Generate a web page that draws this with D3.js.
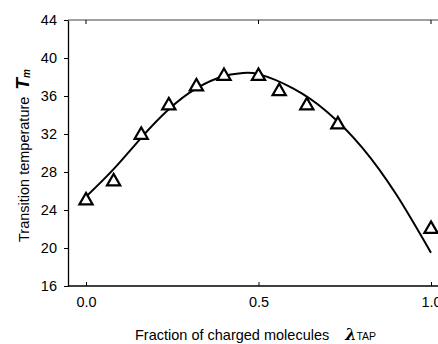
<!DOCTYPE html>
<html>
<head>
<meta charset="utf-8">
<script src="https://cdn.jsdelivr.net/npm/d3@7"></script>
<style>
  body { margin: 0; background: #fff; }
  text { font-family: "Liberation Sans", Arial, sans-serif; }
</style>
</head>
<body>
<div id="chart"></div>
<script>
// measured points (triangles)
const fraction = [0.0, 0.08, 0.16, 0.24, 0.32, 0.40, 0.50, 0.56, 0.64, 0.73, 1.0];
const tm = [25.1, 27.1, 32.0, 35.1, 37.1, 38.2, 38.2, 36.6, 35.1, 33.1, 22.1];

// fitted curve
const fitX = [0.0, 0.08, 0.16, 0.24, 0.32, 0.40, 0.45, 0.50, 0.60, 0.70, 0.80, 0.90, 1.0];
const fitY = [25.4, 28.3, 31.6, 34.6, 36.8, 38.1, 38.4, 38.3, 36.8, 34.3, 30.6, 25.6, 19.5];

const xTicks = [0.0, 0.5, 1.0];
const yTicks = [16, 20, 24, 28, 32, 36, 40, 44];

const width = 438, height = 344;
const margin = {top: 20, left: 68, bottom: 58};
const fontSize = 14.5;

const svg = d3.select("#chart").append("svg")
  .attr("width", width)
  .attr("height", height);

const x = d3.scaleLinear().domain([0, 1]).range([86, 431]);
const y = d3.scaleLinear().domain([16, 44]).range([height - margin.bottom, margin.top]);

// top frame line (grey) with inner ticks
svg.append("line")
  .attr("x1", margin.left).attr("x2", width)
  .attr("y1", margin.top).attr("y2", margin.top)
  .attr("stroke", "#808080").attr("stroke-width", 1.3);
svg.append("g").selectAll("line")
  .data(xTicks)
  .join("line")
  .attr("x1", d => x(d)).attr("x2", d => x(d))
  .attr("y1", margin.top).attr("y2", margin.top + 4)
  .attr("stroke", "#000");

// bottom axis
const xAxis = svg.append("g")
  .attr("transform", "translate(0," + y(16) + ")")
  .call(d3.axisBottom(x).tickValues(xTicks).tickFormat(d3.format(".1f")).tickSizeInner(-4).tickSizeOuter(0).tickPadding(11));
xAxis.select(".domain").remove();
xAxis.append("line")
  .attr("x1", margin.left).attr("x2", width)
  .attr("stroke", "#000").attr("stroke-width", 1.3);
xAxis.selectAll("text").attr("font-size", fontSize).attr("fill", "#000")
  .attr("font-family", "Liberation Sans, Arial, sans-serif");

// left axis
const yAxis = svg.append("g")
  .attr("transform", "translate(" + margin.left + ",0)")
  .call(d3.axisLeft(y).tickValues(yTicks).tickSize(4).tickSizeOuter(0).tickPadding(7));
yAxis.select(".domain").attr("stroke-width", 1.3);
yAxis.selectAll("text").attr("font-size", fontSize).attr("fill", "#000")
  .attr("font-family", "Liberation Sans, Arial, sans-serif");

// fitted curve
const fit = fitX.map((d, i) => [d, fitY[i]]);
svg.append("path")
  .datum(fit)
  .attr("fill", "none")
  .attr("stroke", "#000")
  .attr("stroke-width", 2)
  .attr("d", d3.line().x(d => x(d[0])).y(d => y(d[1])).curve(d3.curveNatural));

// triangles
const tri = d3.symbol().type(d3.symbolTriangle).size(76);
svg.append("g").selectAll("path")
  .data(fraction.map((d, i) => [d, tm[i]]))
  .join("path")
  .attr("transform", d => "translate(" + x(d[0]) + "," + (y(d[1]) + 1) + ")")
  .attr("d", tri)
  .attr("fill", "#fff")
  .attr("stroke", "#000")
  .attr("stroke-width", 2.2)
  .attr("stroke-linejoin", "miter");

// x label
const xl = svg.append("text")
  .attr("x", 135).attr("y", 340)
  .attr("font-size", fontSize);
xl.append("tspan").text("Fraction of charged molecules");
xl.append("tspan").attr("dx", 16)
  .attr("font-family", "DejaVu Serif, serif")
  .attr("font-style", "italic").attr("font-weight", "bold").attr("font-size", 16)
  .text("λ");
xl.append("tspan").attr("font-size", 10.5).attr("dx", 0).text("TAP");

// y label
const yl = svg.append("text")
  .attr("transform", "translate(28.5,242) rotate(-90)")
  .attr("font-size", fontSize);
yl.append("tspan").text("Transition  temperature");
yl.append("tspan").attr("dx", 7)
  .attr("font-style", "italic").attr("font-weight", "bold").attr("font-size", 19)
  .text("T");
yl.append("tspan").attr("dy", 1)
  .attr("font-style", "italic").attr("font-weight", "bold").attr("font-size", 10)
  .text("m");
</script>
</body>
</html>
